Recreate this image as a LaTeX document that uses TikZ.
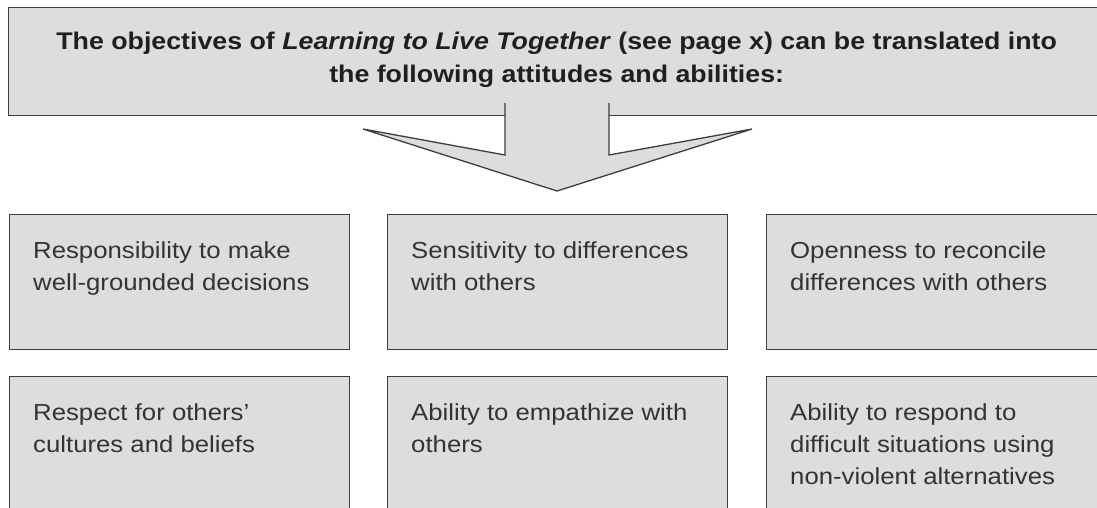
\documentclass[tikz,border=0pt]{standalone}
\usepackage{fontspec}
\setmainfont{Liberation Sans}[FakeStretch=1.11]
\usetikzlibrary{positioning}
\definecolor{panel}{HTML}{DCDDDF}
\definecolor{rim}{HTML}{3E3E3E}
\definecolor{ink}{HTML}{333333}
\tikzset{
  tile/.style={draw=rim, fill=panel, line width=1.3pt, minimum width=340pt,
    minimum height=135pt, anchor=north west, inner sep=0pt},
  tiletext/.style={anchor=north west, align=left, text=ink, inner sep=0pt,
    font=\fontsize{23.2}{32}\selectfont},
  headtext/.style={anchor=north, align=center, inner sep=0pt, text=black!88,
    font=\bfseries\fontsize{24.1}{33.5}\selectfont},
}
\begin{document}
\begin{tikzpicture}[x=1pt,y=-1pt]
  \clip (0,0) rectangle (1097,507);

  % heading
  \node[tile, minimum width=1096pt, minimum height=108pt] (head) at (8,7) {};
  \node[headtext] (head text) at ([yshift=-24.4pt]head.north) {The objectives of \textit{Learning to Live Together} (see page x) can be translated into\\the following attitudes and abilities:};

  % block arrow
  \filldraw[draw=rim, fill=panel, line width=1.3pt] (505,103) -- (505,155) -- (363,129) -- (557,191)
    -- (752,129) -- (609,155) -- (609,103);

  % boxes
  \begin{scope}[every node/.style={tile}]
    \node (duty)    at (9,214)   {};
    \node (sense)   at (387,214) {};
    \node (open)    at (766,214) {};
    \node (respect) at (9,376)   {};
    \node (empathy) at (387,376) {};
    \node (respond) at (766,376) {};
  \end{scope}

  \begin{scope}[every node/.style={tiletext}]
    \node (duty text)    at ([xshift=24pt,yshift=-27.3pt]duty.north west)    {Responsibility to make\\well-grounded decisions};
    \node (sense text)   at ([xshift=24pt,yshift=-27.3pt]sense.north west)   {Sensitivity to differences\\with others};
    \node (open text)    at ([xshift=24pt,yshift=-27.3pt]open.north west)    {Openness to reconcile\\differences with others};
    \node (respect text) at ([xshift=24pt,yshift=-27.3pt]respect.north west) {Respect for others’\\cultures and beliefs};
    \node (empathy text) at ([xshift=24pt,yshift=-27.3pt]empathy.north west) {Ability to empathize with\\others};
    \node (respond text) at ([xshift=24pt,yshift=-27.3pt]respond.north west) {Ability to respond to\\difficult situations using\\non-violent alternatives};
  \end{scope}

\end{tikzpicture}
\end{document}
